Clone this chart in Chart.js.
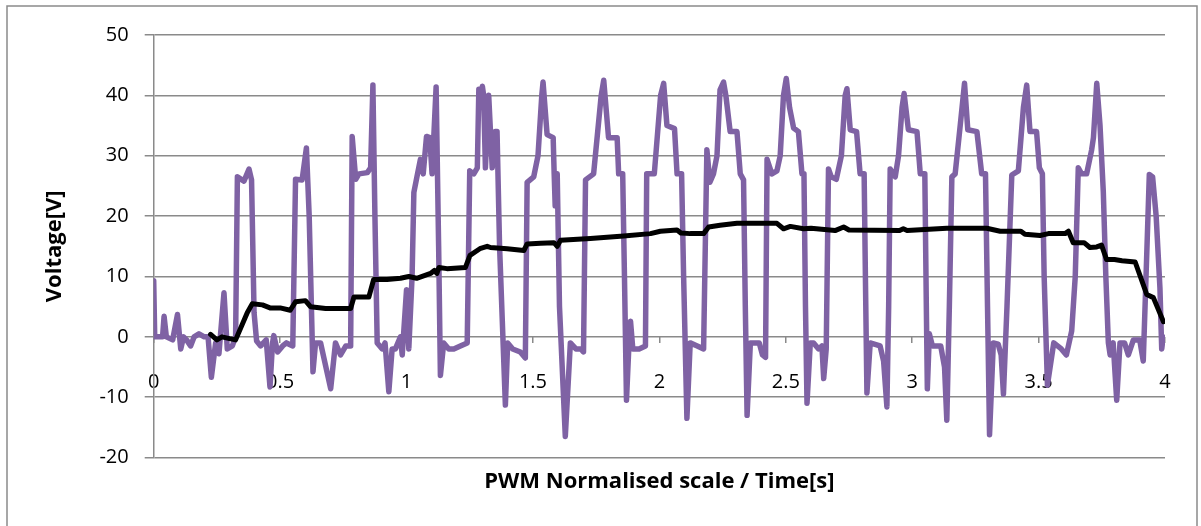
<!DOCTYPE html>
<html>
<head>
<meta charset="utf-8">
<script src="https://cdn.jsdelivr.net/npm/chart.js@4/dist/chart.umd.min.js"></script>
<style>
  html, body { margin: 0; padding: 0; background: #fff; }
  #wrap { width: 1201px; height: 526px; }
</style>
</head>
<body>
<div id="wrap"><canvas id="pwmChart" width="1201" height="526"></canvas></div>
<script>
// PWM waveform (time [s], voltage [V])
const pwmTime = [
  0, 0.004, 0.02, 0.035, 0.041, 0.05, 0.075, 0.094, 0.107, 0.118, 0.13, 0.146, 0.16, 0.179, 0.2, 0.215,
  0.228, 0.245, 0.258, 0.278, 0.291, 0.311, 0.324, 0.331, 0.357, 0.377, 0.387, 0.397, 0.407, 0.423, 0.445,
  0.46, 0.47, 0.475, 0.49, 0.51, 0.525, 0.55, 0.561, 0.587, 0.604, 0.615, 0.63, 0.64, 0.66, 0.70, 0.719,
  0.739, 0.76, 0.779, 0.785, 0.799, 0.812, 0.845, 0.858, 0.867, 0.875, 0.884, 0.904, 0.915, 0.93, 0.943,
  0.956, 0.976, 0.983, 1.0, 1.009, 1.022, 1.029, 1.042, 1.055, 1.066, 1.079, 1.092, 1.101, 1.117, 1.127,
  1.134, 1.147, 1.167, 1.187, 1.213, 1.24, 1.25, 1.266, 1.28, 1.286, 1.293, 1.3, 1.305, 1.312, 1.325,
  1.339, 1.35, 1.358, 1.368, 1.391, 1.40, 1.42, 1.45, 1.47, 1.477, 1.503, 1.52, 1.535, 1.54, 1.556, 1.58,
  1.584, 1.588, 1.596, 1.605, 1.628, 1.648, 1.67, 1.69, 1.70, 1.708, 1.74, 1.77, 1.78, 1.799, 1.833,
  1.839, 1.855, 1.862, 1.87, 1.88, 1.886, 1.895, 1.92, 1.945, 1.95, 1.98, 2.005, 2.017, 2.03, 2.06, 2.07,
  2.088, 2.096, 2.109, 2.122, 2.15, 2.175, 2.188, 2.2, 2.214, 2.228, 2.24, 2.254, 2.263, 2.28, 2.307, 2.32,
  2.333, 2.34, 2.347, 2.36, 2.395, 2.408, 2.42, 2.426, 2.445, 2.465, 2.478, 2.491, 2.502, 2.515, 2.531,
  2.55, 2.564, 2.572, 2.578, 2.584, 2.597, 2.61, 2.63, 2.643, 2.65, 2.66, 2.669, 2.68, 2.7, 2.72, 2.735,
  2.742, 2.755, 2.78, 2.794, 2.81, 2.815, 2.821, 2.834, 2.873, 2.887, 2.9, 2.907, 2.913, 2.933, 2.946,
  2.96, 2.968, 2.985, 3.019, 3.032, 3.05, 3.056, 3.06, 3.068, 3.08, 3.113, 3.128, 3.137, 3.147, 3.157,
  3.17, 3.19, 3.207, 3.22, 3.256, 3.275, 3.29, 3.298, 3.306, 3.321, 3.34, 3.352, 3.361, 3.375, 3.394,
  3.42, 3.44, 3.453, 3.466, 3.492, 3.503, 3.515, 3.522, 3.535, 3.56, 3.59, 3.61, 3.631, 3.645, 3.657,
  3.67, 3.69, 3.71, 3.717, 3.73, 3.743, 3.756, 3.766, 3.776, 3.783, 3.795, 3.809, 3.822, 3.84, 3.855,
  3.875, 3.9, 3.914, 3.925, 3.938, 3.951, 3.965, 3.98, 3.987, 3.993, 4.0
];
const pwmVolt = [
  9.3, 0, 0, 0, 3.4, 0, -0.5, 3.7, -2, 0, -0.5, -1.5, 0, 0.5, 0, 0,
  -6.7, -1, -2.8, 7.3, -2, -1.5, 0, 26.5, 25.8, 27.8, 26, 4, -0.7, -1.5, -0.5,
  -8.3, -1, 0.2, -2.5, -1.5, -1, -1.5, 26.1, 26, 31.3, 20, -5.8, -1, -1, -8.6, -1,
  -3, -1.5, -1.5, 33.2, 26.1, 27, 27.2, 28, 41.7, 20, -1, -2, -1, -9.1, -2,
  -2, 0, -3, 7.8, -2, 10, 23.9, 26.7, 29.4, 27, 33.2, 33, 27, 41.4, 15,
  -6.4, -1, -2, -2, -1.5, -1, 27.5, 27, 28, 41, 38, 41.5, 40, 28, 40,
  28, 34, 34, 15, -11.3, -1, -2, -2.5, -3.5, 25.6, 26.5, 30, 40, 42.2, 33.5, 33,
  27, 21.7, 27, 5, -16.5, -1, -2, -2, -2.5, 26, 27, 40, 42.5, 33, 33,
  27, 27, 10, -10.5, -1, 2.6, -2, -2, -1.5, 27, 27, 40, 42, 35, 34.5, 27,
  27, 10, -13.5, -1, -1.5, -2, 31, 25.6, 27, 30, 40.9, 42.2, 40, 34, 34, 27,
  26, 5, -13, -1, -1, -3, -3.4, 29.4, 27, 27.5, 30, 40, 42.8, 38, 34.6,
  34, 27, 27, 5, -11, -1, -1, -2, -1.5, -6.9, -2, 27.8, 26.5, 26.1, 30, 40,
  41.1, 34.3, 34, 27, 27, 10, -9.3, -1, -1.5, -4, -11.6, 5, 27.8, 26.5, 30,
  38, 40.3, 34.3, 34, 27, 27, 5, -8.6, 0.5, -1.5, -1.5, -5, -13.8, 5, 26.5,
  27, 35, 42, 34.3, 34, 27, 27, 5, -16.2, -1, -1.2, -3, -9.5, 5, 26.8,
  27.5, 38, 41.7, 34, 34, 28, 27, 10, -8, -1, -2, -3, 1, 10, 28,
  27, 27, 31, 33, 42, 35, 24, 10, -1, -3, -1, -10.5, -1, -1, -3,
  -0.5, -0.5, -4, 10, 26.9, 26.5, 20, 8.1, -2, 0, -0.8
];

// averaged (black) trace
const avgTime = [
  0.225, 0.25, 0.27, 0.3, 0.324, 0.37, 0.39, 0.43, 0.46, 0.5, 0.54, 0.561, 0.6, 0.62, 0.68, 0.779,
  0.792, 0.851, 0.87, 0.923, 0.976, 1.009, 1.04, 1.095, 1.11, 1.12, 1.128, 1.16, 1.233, 1.251, 1.29,
  1.319, 1.332, 1.398, 1.464, 1.477, 1.53, 1.583, 1.596, 1.609, 1.727, 1.859, 1.965, 2.004, 2.07, 2.085,
  2.122, 2.175, 2.195, 2.24, 2.307, 2.465, 2.491, 2.518, 2.57, 2.6, 2.695, 2.729, 2.75, 2.95, 2.965,
  2.98, 3.137, 3.295, 3.348, 3.43, 3.446, 3.506, 3.539, 3.605, 3.618, 3.637, 3.68, 3.703, 3.73, 3.749,
  3.769, 3.8, 3.83, 3.882, 3.928, 3.954, 3.994
];
const avgVolt = [
  0.4, -0.5, 0, -0.3, -0.5, 4, 5.5, 5.3, 4.8, 4.8, 4.4, 5.8, 6, 5, 4.7, 4.7,
  6.6, 6.6, 9.5, 9.5, 9.7, 10, 9.7, 10.5, 11, 10.5, 11.5, 11.3, 11.5, 13.5, 14.6,
  15, 14.8, 14.6, 14.3, 15.4, 15.5, 15.6, 15, 16, 16.3, 16.7, 17.1, 17.5, 17.7, 17.2,
  17.1, 17.1, 18.2, 18.5, 18.8, 18.8, 17.9, 18.3, 17.9, 18, 17.6, 18.2, 17.7, 17.6, 17.9,
  17.6, 18, 18, 17.5, 17.5, 17, 16.8, 17.1, 17.1, 17.5, 15.6, 15.6, 14.8, 14.9, 15.2,
  12.8, 12.8, 12.6, 12.4, 7, 6.5, 2.5
];

const xMin = 0, xMax = 4, xStep = 0.5;
const yMin = -20, yMax = 50, yStep = 10;

const toPoints = (xs, ys) => xs.map((x, i) => ({ x: x, y: ys[i] }));

const gridColor = '#8a8a8a';

// outer frame around the whole chart
const framePlugin = {
  id: 'frame',
  beforeDraw(chart) {
    const ctx = chart.ctx;
    ctx.save();
    ctx.fillStyle = '#fff';
    ctx.fillRect(0, 0, chart.width, chart.height);
    ctx.strokeStyle = gridColor;
    ctx.lineWidth = 1.5;
    ctx.strokeRect(7, 6, 1190, 560);
    ctx.restore();
  }
};

const ctx = document.getElementById('pwmChart').getContext('2d');
new Chart(ctx, {
  type: 'line',
  data: {
    datasets: [
      {
        label: 'Average',
        data: toPoints(avgTime, avgVolt),
        borderColor: '#000000',
        borderWidth: 5,
        pointRadius: 0,
        tension: 0,
        borderJoinStyle: 'round',
        borderCapStyle: 'round'
      },
      {
        label: 'PWM',
        data: toPoints(pwmTime, pwmVolt),
        borderColor: '#7f62a4',
        borderWidth: 5.5,
        pointRadius: 0,
        tension: 0,
        borderJoinStyle: 'round',
        borderCapStyle: 'round'
      }
    ]
  },
  options: {
    responsive: false,
    animation: false,
    layout: { padding: { left: 42, right: 36, top: 35, bottom: 31 } },
    plugins: {
      legend: { display: false },
      tooltip: { enabled: false }
    },
    scales: {
      x: {
        type: 'linear',
        position: { y: 0 },
        min: xMin,
        max: xMax,
        ticks: {
          stepSize: xStep,
          color: '#000',
          padding: 27,
          maxRotation: 0,
          callback: (value) => String(value),
          font: { family: 'Open Sans', size: 20 }
        },
        grid: {
          drawOnChartArea: false,
          drawTicks: true,
          tickLength: 6,
          color: gridColor,
          lineWidth: 1.5
        },
        border: { display: false }
      },
      xTitle: {
        type: 'linear',
        position: 'bottom',
        min: xMin,
        max: xMax,
        ticks: { display: false },
        grid: { display: false, drawTicks: false },
        border: { display: false },
        title: {
          display: true,
          text: 'PWM Normalised scale / Time[s]',
          color: '#000',
          padding: { top: 11, bottom: 0 },
          font: { family: 'Open Sans', size: 22, weight: 'bold' }
        }
      },
      y: {
        min: yMin,
        max: yMax,
        ticks: {
          stepSize: yStep,
          color: '#000',
          padding: 16,
          font: { family: 'Open Sans', size: 20 }
        },
        grid: {
          color: gridColor,
          lineWidth: 1.5,
          tickLength: 9
        },
        border: { display: true, color: gridColor, width: 1.5 },
        title: {
          display: true,
          text: 'Voltage[V]',
          color: '#000',
          padding: { top: 0, bottom: 15 },
          font: { family: 'Open Sans', size: 22, weight: 'bold' }
        }
      }
    }
  },
  plugins: [framePlugin]
});
</script>
</body>
</html>
